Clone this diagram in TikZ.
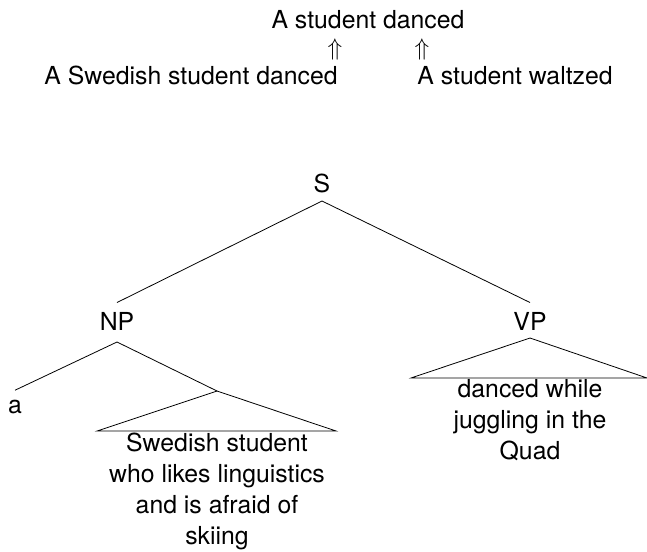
\documentclass[tikz,border=0pt]{standalone}
\usepackage{fontspec}
\setmainfont{TeX Gyre Heros}
\begin{document}
\begin{tikzpicture}[x=0.5pt,y=-0.5pt,
  every node/.style={font=\fontsize{12.4}{15.5}\selectfont, inner sep=4.5pt},
  sent/.style={anchor=base, inner sep=0pt},
  leaves/.style={anchor=north, align=center, inner sep=0pt}]
  \useasboundingbox (0,0) rectangle (647,551);

  \node[sent] (0) at (368,29) {A student danced};
  \node[inner sep=0pt] (1) at (335,50) {$\Uparrow$};
  \node[inner sep=0pt] (2) at (422,50) {$\Uparrow$};
  \node[sent] (3) at (191,85) {A Swedish student danced};
  \node[sent] (4) at (515,85) {A student waltzed};

  \node[sent] (5) at (322,192) {S};
  \node[sent] (6) at (117,330) {NP};
  \node[sent] (7) at (530,330) {VP};
  \node[sent] (8) at (15,413) {a};
  \node[leaves] (9) at (217,433) {Swedish student\\who likes linguistics\\and is afraid of\\skiing};
  \node[leaves] (10) at (530,379) {danced while\\juggling in the\\Quad};

  \coordinate (n1) at (217,391);
  \coordinate (n2) at (97,431);
  \coordinate (n3) at (336,431);
  \coordinate (v1) at (411,378);
  \coordinate (v2) at (647,378);

  \draw ([yshift=-4.5pt]5.base) -- ([yshift=4.5pt]6.north);
  \draw ([yshift=-4.5pt]5.base) -- ([yshift=4.5pt]7.north);
  \draw ([yshift=-6pt]6.base) -- ([yshift=4.5pt]8.north);
  \draw ([yshift=-6pt]6.base) -- (n1);
  \draw (n1) -- (n2) -- (n3) -- cycle;
  \draw ([yshift=-4pt]7.base) -- (v1) -- (v2) -- cycle;
\end{tikzpicture}
\end{document}
